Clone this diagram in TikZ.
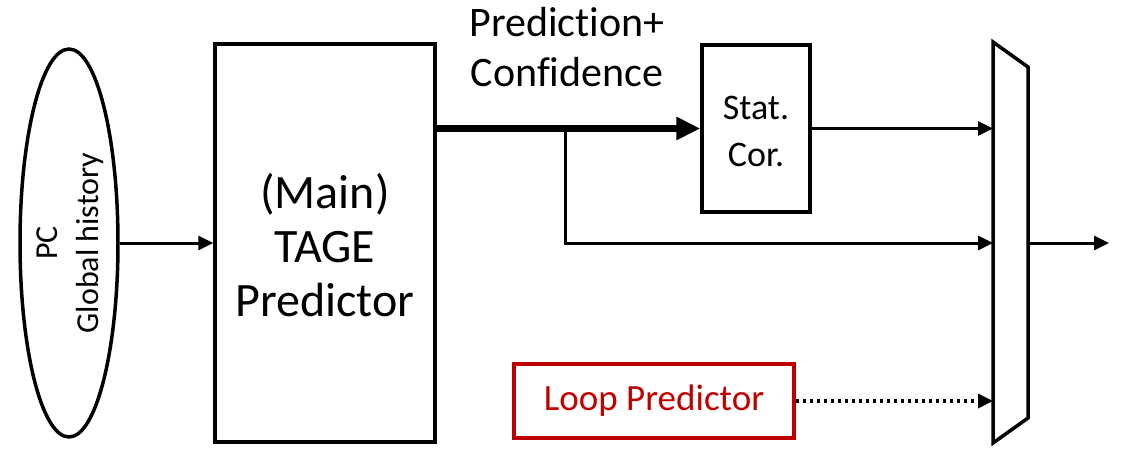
\documentclass[tikz,border=0pt]{standalone}
\usepackage{fontspec}
\setmainfont{Carlito}[Ligatures=NoCommon]
\usetikzlibrary{arrows.meta,shapes.geometric}
\definecolor{loopred}{HTML}{C00000}
\begin{document}
\begin{tikzpicture}[x=1pt,y=-1pt,
  blk/.style={draw,line width=3.5pt,inner sep=0pt},
  conn/.style={line width=3pt,-{Triangle[length=15pt,width=14pt]}},
  thickconn/.style={line width=7pt,-{Triangle[length=24pt,width=22pt]}},
  dotconn/.style={line width=3.5pt,dash pattern=on 3.5pt off 3.5pt,-{Triangle[length=15pt,width=14pt]}},
  lbl/.style={inner sep=0pt,align=center}
]
\useasboundingbox (0,0) rectangle (1122,448);
% input ellipse
\node[draw, ellipse, line width=3.5pt, minimum width=98pt, minimum height=388pt, inner sep=0pt] (ell) at (69,243) {};
\node[lbl, rotate=90, font=\fontsize{32}{41}\selectfont] (elltxt) at (70,243) {PC\\Global history};
% main TAGE
\node[blk, minimum width=220pt, minimum height=398pt] (tage) at (325,243) {};
\node[lbl, font=\fontsize{48}{54}\selectfont] (tagetxt) at (325,245) {(Main)\\TAGE\\Predictor};
% statistical corrector
\node[blk, minimum width=108pt, minimum height=167pt] (stat) at (756,128.5) {};
\node[lbl, font=\fontsize{36}{47}\selectfont] (stattxt) at (756,131) {Stat.\\Cor.};
% loop predictor
\node[blk, draw=loopred, text=loopred, minimum width=280pt, minimum height=74pt, font=\fontsize{37}{40}\selectfont] (loop) at (654,401) {Loop Predictor};
% prediction label
\node[lbl, font=\fontsize{42}{50}\selectfont] (predlbl) at (567,47) {Prediction+\\Confidence};
% mux
\coordinate (m1) at (993,42);
\coordinate (m2) at (1028,67);
\coordinate (m3) at (1028,418);
\coordinate (m4) at (993,443);
\draw[line width=3.5pt, line join=miter] (m1) -- (m2) -- (m3) -- (m4) -- cycle;
\coordinate (muxout) at (1028,243);
\coordinate (outend) at (1109,243);
\coordinate (br) at (565,128.5);
% connectors
\draw[conn] (ell.east) -- (tage.west);
\draw[thickconn] (stat.west -| tage.east) -- (stat.west);
\draw[conn] (br) |- (m1 |- tage.east);
\draw[conn] (stat.east) -- (stat.east -| m1);
\draw[dotconn] (loop.east) -- (loop.east -| m1);
\draw[conn] (muxout) -- (outend);
\end{tikzpicture}
\end{document}
